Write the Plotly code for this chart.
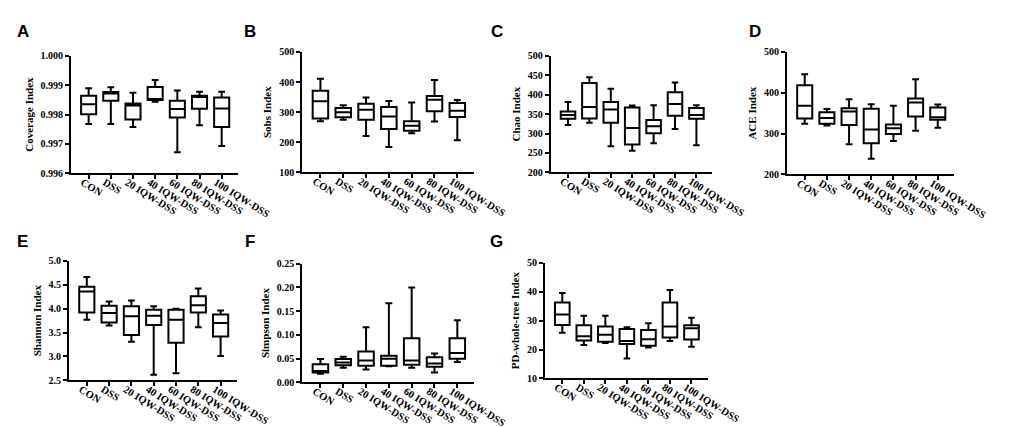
import plotly.graph_objects as go

groups = ["CON", "DSS", "20 IQW-DSS", "40 IQW-DSS", "60 IQW-DSS", "80 IQW-DSS", "100 IQW-DSS"]

# five-number summaries (whisker low, q1, median, q3, whisker high)
coverage_low = [0.99768, 0.99768, 0.99758, 0.99844, 0.99672, 0.99764, 0.99693]
coverage_q1 = [0.99801, 0.99847, 0.99783, 0.99850, 0.99790, 0.99820, 0.99758]
coverage_med = [0.99835, 0.99872, 0.99831, 0.99853, 0.99819, 0.99860, 0.99821]
coverage_q3 = [0.99864, 0.99877, 0.99838, 0.99894, 0.99847, 0.99864, 0.99858]
coverage_high = [0.99890, 0.99893, 0.99874, 0.99918, 0.99882, 0.99878, 0.99878]

sobs_low = [270, 275, 221, 184, 230, 269, 207]
sobs_q1 = [279, 283, 275, 244, 238, 303, 284]
sobs_med = [336, 300, 308, 286, 255, 341, 305]
sobs_q3 = [371, 314, 328, 317, 270, 354, 330]
sobs_high = [411, 323, 349, 337, 332, 407, 340]

chao_low = [322, 328, 267, 256, 275, 312, 270]
chao_q1 = [338, 339, 328, 272, 301, 346, 338]
chao_med = [348, 368, 362, 314, 319, 376, 348]
chao_q3 = [357, 430, 381, 367, 335, 406, 366]
chao_high = [381, 445, 415, 372, 373, 431, 373]

ace_low = [324, 320, 274, 238, 282, 307, 314]
ace_q1 = [337, 324, 321, 276, 299, 342, 334]
ace_med = [368, 338, 354, 310, 313, 376, 340]
ace_q3 = [418, 352, 362, 361, 322, 386, 364]
ace_high = [445, 360, 384, 372, 368, 433, 371]

shannon_low = [3.77, 3.65, 3.31, 2.62, 2.65, 3.61, 3.01]
shannon_q1 = [3.92, 3.71, 3.45, 3.66, 3.29, 3.92, 3.42]
shannon_med = [4.36, 3.91, 3.84, 3.85, 3.77, 4.07, 3.70]
shannon_q3 = [4.46, 4.06, 4.05, 3.98, 3.98, 4.26, 3.88]
shannon_high = [4.66, 4.15, 4.17, 4.05, 4.00, 4.42, 3.96]

simpson_low = [0.018, 0.031, 0.027, 0.034, 0.031, 0.021, 0.043]
simpson_q1 = [0.021, 0.036, 0.035, 0.035, 0.037, 0.033, 0.050]
simpson_med = [0.024, 0.042, 0.046, 0.050, 0.046, 0.040, 0.062]
simpson_q3 = [0.038, 0.049, 0.065, 0.056, 0.093, 0.053, 0.093]
simpson_high = [0.049, 0.054, 0.116, 0.167, 0.200, 0.061, 0.131]

pd_low = [25.8, 21.6, 22.3, 16.9, 20.7, 23.0, 21.0]
pd_q1 = [28.5, 23.1, 22.7, 21.9, 21.3, 24.2, 23.5]
pd_med = [32.1, 24.6, 25.1, 23.0, 23.6, 28.0, 27.4]
pd_q3 = [36.3, 28.4, 28.0, 27.1, 26.8, 36.3, 28.4]
pd_high = [39.6, 31.7, 31.7, 27.7, 29.1, 40.6, 31.0]

panel_letters = ["A", "B", "C", "D", "E", "F", "G"]
y_titles = ["Coverage Index", "Sobs Index", "Chao Index", "ACE Index",
            "Shannon Index", "Simpson Index", "PD-whole-tree Index"]
y_ranges = [[0.996, 1.000], [100, 500], [200, 500], [200, 500], [2.5, 5.0], [0.0, 0.25], [10, 50]]
y_dticks = [0.001, 100, 50, 100, 0.5, 0.05, 10]
y_formats = [".3f", "d", "d", "d", ".1f", ".2f", "d"]

stats = [
    (coverage_low, coverage_q1, coverage_med, coverage_q3, coverage_high),
    (sobs_low, sobs_q1, sobs_med, sobs_q3, sobs_high),
    (chao_low, chao_q1, chao_med, chao_q3, chao_high),
    (ace_low, ace_q1, ace_med, ace_q3, ace_high),
    (shannon_low, shannon_q1, shannon_med, shannon_q3, shannon_high),
    (simpson_low, simpson_q1, simpson_med, simpson_q3, simpson_high),
    (pd_low, pd_q1, pd_med, pd_q3, pd_high),
]

W, H = 1021, 427
# plot areas in pixels: left, right, top, bottom
areas = [(65, 238, 43, 164), (304, 482, 39, 163), (561, 728, 43, 163), (805, 978, 39, 165),
         (63, 237, 254, 377), (304, 482, 257, 379), (555, 723, 256, 375)]
letter_xy = [(15, 18), (250, 18), (505, 18), (772, 18), (15, 234), (250, 234), (505, 234)]

SERIF = "Times New Roman, Liberation Serif, serif"
axis_style = dict(showline=True, linewidth=2, linecolor="black", ticks="outside",
                  ticklen=4, tickwidth=2, tickcolor="black", showgrid=False,
                  zeroline=False, fixedrange=True)

fig = go.Figure()

for i, (low, q1, med, q3, high) in enumerate(stats):
    n = "" if i == 0 else str(i + 1)
    fig.add_trace(go.Box(
        x=groups, lowerfence=low, q1=q1, median=med, q3=q3, upperfence=high,
        xaxis="x" + n, yaxis="y" + n, boxpoints=False,
        fillcolor="white", line=dict(color="black", width=2),
        width=0.68, whiskerwidth=0.45, showlegend=False
    ))

    left, right, top, bottom = areas[i]
    fig.layout["xaxis" + n] = dict(
        domain=[left / W, right / W], anchor="y" + n, type="category",
        range=[-0.8, 6.75], tickangle=32, ticklabelstandoff=-7, ticklabelshift=-6,
        tickfont=dict(family=SERIF, size=10.5, color="black", weight="bold"),
        **axis_style)
    fig.layout["yaxis" + n] = dict(
        domain=[1 - bottom / H, 1 - top / H], anchor="x" + n,
        range=y_ranges[i], dtick=y_dticks[i], tickformat=y_formats[i],
        tickfont=dict(family=SERIF, size=10, color="black", weight="bold"),
        title=dict(text=y_titles[i], standoff=5,
                   font=dict(family=SERIF, size=11, color="black", weight="bold")),
        **axis_style)

    lx, ly = letter_xy[i]
    fig.add_annotation(
        x=lx / W, y=1 - ly / H, xref="paper", yref="paper", text=panel_letters[i],
        showarrow=False, xanchor="center", yanchor="middle",
        font=dict(family="Liberation Sans, Arial, sans-serif", size=17, color="black", weight="bold"))

fig.update_layout(
    width=W, height=H, margin=dict(l=0, r=0, t=0, b=0),
    plot_bgcolor="white", paper_bgcolor="white"
)

fig.write_html("out.html")
